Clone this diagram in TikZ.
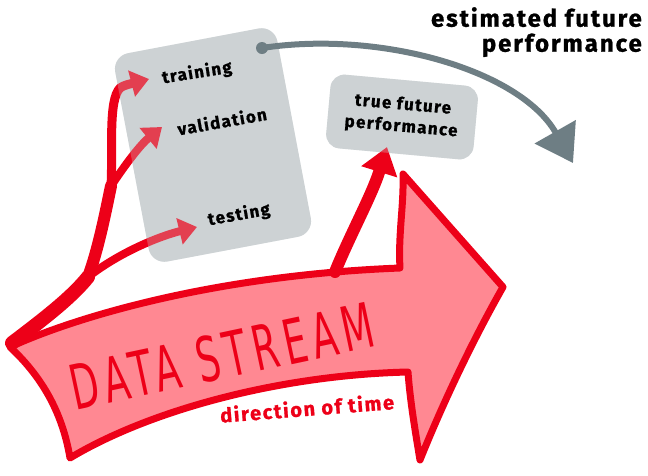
\documentclass[tikz,border=0pt]{standalone}
\usepackage{fontspec}
\setmainfont{Fira Sans}
\newfontfamily\lblfont[LetterSpace=8, FakeBold=1]{Fira Sans Bold}
\newfontfamily\handfont[LetterSpace=14]{DejaVu Sans Condensed}
\usepackage{tikz}
\usetikzlibrary{arrows.meta}
\definecolor{streamred}{RGB}{237,0,24}
\definecolor{streampink}{RGB}{255,136,146}
\definecolor{boxgray}{RGB}{205,210,212}
\definecolor{estgray}{RGB}{110,126,132}
\tikzset{
	phasebox/.style={fill=boxgray, rounded corners=16pt, minimum width=165pt,
	                 minimum height=212pt, rotate=10.7},
	futurebox/.style={fill=boxgray, rounded corners=14pt, minimum width=148pt,
	                  minimum height=74pt, rotate=-5.2},
	veil/.style={fill opacity=0.3}
}

\begin{document}
\begin{tikzpicture}[x=1pt,y=-1pt]
	\useasboundingbox (0,0) rectangle (648,475);

	% the data stream
	\filldraw[streamred, fill=streampink, line width=7pt, line join=round]
	    (10,347) .. controls (80,315) and (220,275) .. (400,268)
	    .. controls (398,235) and (404,205) .. (403,174)
	    -- (503,287)
	    .. controls (470,345) and (440,410) .. (420,460)
	    .. controls (415,430) and (410,400) .. (408,372)
	    .. controls (280,375) and (150,410) .. (70,458)
	    .. controls (62,410) and (40,375) .. (10,347) -- cycle;

	\node[phasebox] (phases) at (213,145) {};
	\node[futurebox] (future) at (402,117) {};

	\coordinate (root) at (12,343);
	\coordinate (forkT) at (88,277);
	\coordinate (forkV) at (111,186);
	\coordinate (trainTip) at (149,79);
	\coordinate (validTip) at (162,127);
	\coordinate (testTip) at (197,227);
	\coordinate (streamTop) at (335,272);
	\coordinate (trueTip) at (387,147);
	\coordinate (estStart) at (262,48);
	\coordinate (estTip) at (573,163);

	\begin{scope}[streamred, line cap=round,
	              >={Triangle[length=18pt,width=26pt]}]
	    \draw [line width=14pt] (root) .. controls (45,318) and (72,297) .. (forkT);
	    \draw [line width=12pt] (forkT) .. controls (98,250) and (105,215) .. (forkV);
	    \draw [line width=9pt, ->] (forkV) .. controls (113,150) and (108,100) .. (120,88)
	        .. controls (124,85) and (130,84) .. (trainTip);
	    \draw [line width=8pt, ->] (forkV) .. controls (125,165) and (140,145) .. (validTip);
	    \draw [line width=8pt, ->] (forkT) .. controls (120,252) and (160,236) .. (testTip);
	    \draw [line width=12pt, -{Triangle[length=26pt,width=36pt]}]
	        (streamTop) .. controls (350,235) and (372,195) .. (trueTip);
	\end{scope}

	% arrows show through the boxes
	\node[phasebox, veil] at (phases) {};
	\node[futurebox, veil] at (future) {};

	% estimate from the test data
	\fill[estgray] (estStart) circle (6pt);
	\draw[estgray, line width=6pt, -{Triangle[length=36pt,width=46pt]}]
	    (estStart) .. controls (380,30) and (520,70) .. (estTip);

	\begin{scope}[every node/.style={font=\lblfont\fontsize{17}{22}\selectfont}]
	    \node[rotate=9] (train) at (197,73) {training};
	    \node[rotate=10] (valid) at (222,121) {validation};
	    \node[rotate=10] (test) at (239,215) {testing};
	    \node[rotate=-5, align=center] (trueperf) at (402,116) {true future\\performance};
	\end{scope}
	\node[font=\lblfont\fontsize{24}{25}\selectfont, align=right, anchor=north east,
	      inner sep=0pt] (estperf) at (642,7) {estimated future\\performance};
	\node[font=\lblfont\fontsize{20}{22}\selectfont, text=streamred, rotate=4.5]
	    (dir) at (307,408) {direction of time};
	\node[font=\handfont\fontsize{62}{62}\selectfont, text=streamred, rotate=12]
	    (stream) at (222,356) {\scalebox{0.66}[1]{DATA STREAM}};
\end{tikzpicture}
\end{document}
